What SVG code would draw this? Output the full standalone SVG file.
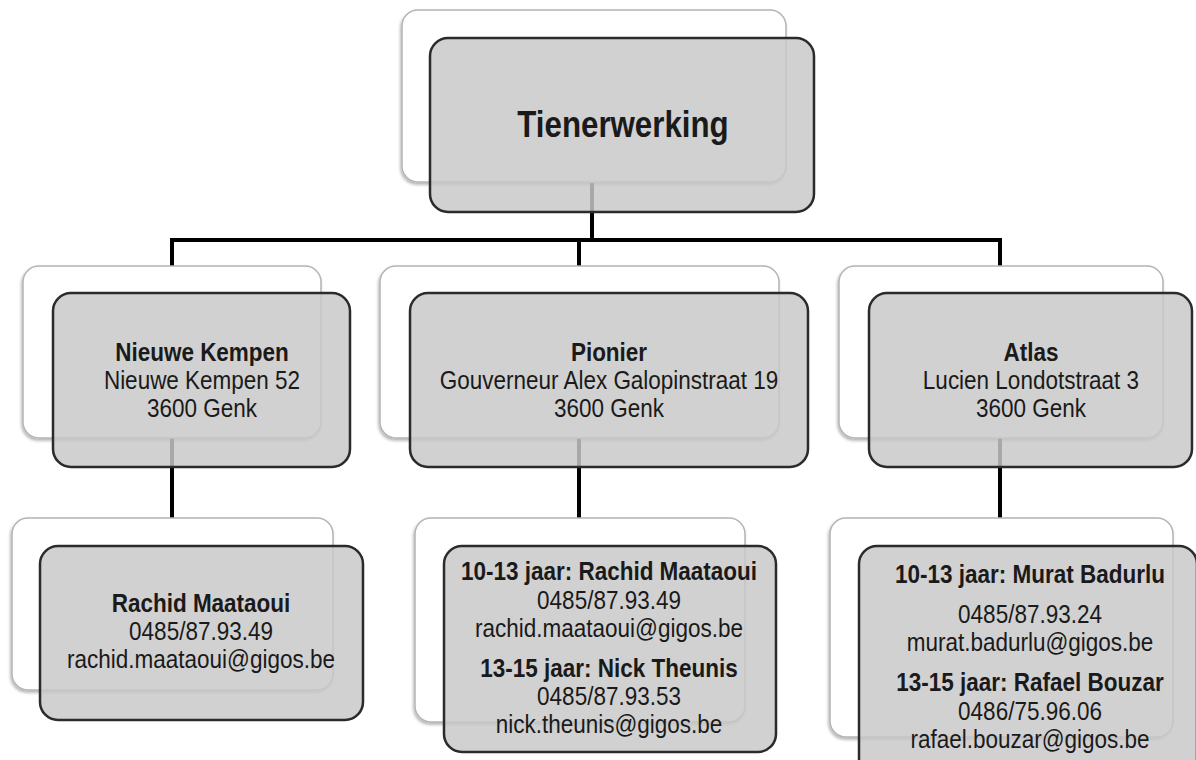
<svg xmlns="http://www.w3.org/2000/svg" width="1196" height="760" viewBox="0 0 1196 760">
<style>
.back{fill:#ffffff;stroke:#b4b4b4;stroke-width:1.5;filter:url(#sh)}
.front{fill:#c8c8c8;fill-opacity:0.84;stroke:#2b2b2b;stroke-width:2.5}
.conn{stroke:#000;stroke-width:4;fill:none}
text{font-family:"Liberation Sans",Arial,sans-serif;fill:#1a1a1a;text-anchor:middle;font-size:25px}
.b{font-weight:bold}
.title{font-size:37px;font-weight:bold}
</style>
<defs>
<filter id="sh" x="-10%" y="-10%" width="120%" height="130%">
<feDropShadow dx="-1" dy="2" stdDeviation="1.5" flood-color="#000" flood-opacity="0.3"/>
</filter>
</defs>
<rect width="1196" height="760" fill="#fff"/>
<g id="connectors">
<path class="conn" d="M592 183V240"/>
<path class="conn" d="M170 240H1002"/>
<path class="conn" d="M172 240V266M579 240V266M1000 240V266"/>
<path class="conn" d="M172 438V518M579 438V518M1000 438V518"/>
</g>
<g id="tienerwerking">
<rect class="back" x="402" y="10" width="384" height="172" rx="16"/>
<rect class="front" x="430" y="38" width="384" height="174" rx="18"/>
<g transform="translate(623 0) scale(0.845 1)">
<text class="title" x="0" y="137">Tienerwerking</text>
</g>
</g>
<g id="nieuwe-kempen">
<rect class="back" x="23" y="266" width="298" height="172" rx="16"/>
<rect class="front" x="53" y="293" width="297" height="174" rx="18"/>
<g transform="translate(202 0) scale(0.9 1)">
<text class="b" x="0" y="361">Nieuwe Kempen</text>
<text x="0" y="389">Nieuwe Kempen 52</text>
<text x="0" y="417">3600 Genk</text>
</g>
</g>
<g id="pionier">
<rect class="back" x="380" y="266" width="399" height="172" rx="16"/>
<rect class="front" x="410" y="293" width="398" height="174" rx="18"/>
<g transform="translate(609 0) scale(0.9 1)">
<text class="b" x="0" y="361">Pionier</text>
<text x="0" y="389">Gouverneur Alex Galopinstraat 19</text>
<text x="0" y="417">3600 Genk</text>
</g>
</g>
<g id="atlas">
<rect class="back" x="839" y="266" width="324" height="172" rx="16"/>
<rect class="front" x="869" y="293" width="323" height="174" rx="18"/>
<g transform="translate(1031 0) scale(0.9 1)">
<text class="b" x="0" y="361">Atlas</text>
<text x="0" y="389">Lucien Londotstraat 3</text>
<text x="0" y="417">3600 Genk</text>
</g>
</g>
<g id="nk-contact">
<rect class="back" x="12" y="518" width="321" height="172" rx="16"/>
<rect class="front" x="40" y="546" width="323" height="174" rx="18"/>
<g transform="translate(201 0) scale(0.9 1)">
<text class="b" x="0" y="612">Rachid Maataoui</text>
<text x="0" y="640">0485/87.93.49</text>
<text x="0" y="668">rachid.maataoui@gigos.be</text>
</g>
</g>
<g id="pionier-contact">
<rect class="back" x="415" y="518" width="330" height="204" rx="16"/>
<rect class="front" x="444" y="546" width="332" height="206" rx="18"/>
<g transform="translate(609 0) scale(0.9 1)">
<text class="b" x="0" y="580">10-13 jaar: Rachid Maataoui</text>
<text x="0" y="609">0485/87.93.49</text>
<text x="0" y="637">rachid.maataoui@gigos.be</text>
<text class="b" x="0" y="677">13-15 jaar: Nick Theunis</text>
<text x="0" y="705">0485/87.93.53</text>
<text x="0" y="733">nick.theunis@gigos.be</text>
</g>
</g>
<g id="atlas-contact">
<rect class="back" x="830" y="518" width="343" height="219" rx="16"/>
<rect class="front" x="859" y="546" width="338" height="230" rx="18"/>
<g transform="translate(1030 0) scale(0.9 1)">
<text class="b" x="0" y="583">10-13 jaar: Murat Badurlu</text>
<text x="0" y="623">0485/87.93.24</text>
<text x="0" y="651">murat.badurlu@gigos.be</text>
<text class="b" x="0" y="691">13-15 jaar: Rafael Bouzar</text>
<text x="0" y="720">0486/75.96.06</text>
<text x="0" y="748">rafael.bouzar@gigos.be</text>
</g>
</g>
</svg>
